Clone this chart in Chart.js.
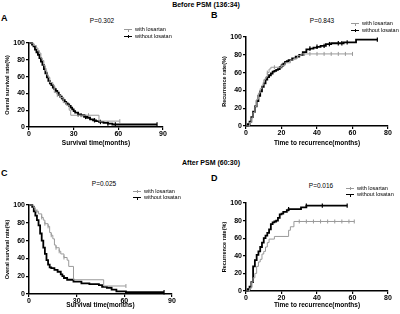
<!DOCTYPE html>
<html>
<head>
<meta charset="utf-8">
<script src="https://cdn.jsdelivr.net/npm/chart.js@4"></script>
<style>
body{margin:0;background:#fff;width:400px;height:314px;position:relative;overflow:hidden;font-family:"Liberation Sans",Arial,sans-serif;color:#000;}
canvas{position:absolute;}
.t{position:absolute;white-space:nowrap;transform:translate(-50%,-50%);}
.h{font-weight:bold;font-size:7px;}
.l{font-weight:bold;font-size:9px;transform:translate(0,-50%);}
.p{font-size:6.5px;}
.lg{position:absolute;font-size:5.5px;line-height:6.5px;}
.row{position:relative;height:6.8px;white-space:nowrap;}
.mk{position:absolute;left:0;top:3px;width:8px;}
.mk i{position:absolute;left:3.5px;top:-1.5px;height:3px;width:0;}
.tx{position:absolute;left:11px;top:0;}
</style>
</head>
<body>
<div class="t h" style="left:206px;top:4px">Before PSM (136:34)</div>
<div class="t h" style="left:211px;top:162px">After PSM (60:30)</div>
<div class="t l" style="left:1px;top:18px">A</div>
<div class="t l" style="left:211px;top:15px">B</div>
<div class="t l" style="left:1px;top:173px">C</div>
<div class="t l" style="left:211px;top:178px">D</div>
<div class="t p" style="left:102px;top:20px">P=0.302</div>
<div class="t p" style="left:322px;top:20px">P=0.843</div>
<div class="t p" style="left:104px;top:183px">P=0.025</div>
<div class="t p" style="left:321px;top:185px">P=0.016</div>

<canvas id="cA" width="178" height="114" style="left:0;top:36px"></canvas>
<canvas id="cB" width="183" height="120" style="left:217px;top:30px"></canvas>
<canvas id="cC" width="184" height="114" style="left:0;top:198px"></canvas>
<canvas id="cD" width="183" height="116" style="left:217px;top:196px"></canvas>

<script>
// series labels
const seriesNames = ["with losartan", "without losatan"];

// A: overall survival, before PSM
const aWithT = [0, 3, 5, 6, 7, 8, 9, 10, 11, 12, 13, 14, 16, 17, 19, 21, 23, 25, 27, 28, 47, 61];
const aWithS = [100, 97, 94, 91, 88, 82, 79, 73, 67, 62, 59, 53, 50, 41, 38, 35, 29, 26, 20, 14, 7, 7];
const aWithC = [14, 19, 22, 35, 40, 61];
const aWithoutT = [0, 2, 3, 4, 5, 6, 7, 8, 9, 10, 11, 12, 13, 14, 15, 16, 17, 18, 19, 20, 21, 22, 23, 24, 25, 26, 27, 28, 29, 30, 31, 33, 35, 37, 39, 41, 43, 45, 47, 50, 53, 56, 86];
const aWithoutS = [100, 98, 96, 92, 89, 86, 82, 78, 74, 69, 64, 59, 55, 52, 50, 47, 45, 43, 41, 38, 36, 34, 32, 30, 28, 27, 25, 23, 21, 19, 17, 15, 14, 12, 11, 9, 8, 7, 6, 5, 4, 3, 3];
const aWithoutC = [33, 38, 44, 48, 53, 58, 86];

// B: recurrence, before PSM
const bWithT = [0, 2, 3, 4, 5, 6, 7, 8, 9, 10, 11, 12, 13, 14, 20, 22, 25, 27, 29, 31, 60];
const bWithS = [0, 4, 9, 15, 22, 30, 37, 42, 46, 52, 55, 60, 64, 66, 68, 71, 74, 76, 79, 81, 81];
const bWithC = [12, 16, 20, 33, 36, 40, 44, 48, 52, 56, 60];
const bWithoutT = [0, 1, 2, 3, 4, 5, 6, 7, 8, 9, 10, 11, 12, 13, 14, 15, 16, 17, 18, 19, 20, 21, 22, 23, 24, 26, 28, 30, 32, 34, 36, 38, 40, 42, 45, 48, 55, 62, 74];
const bWithoutS = [0, 2, 5, 10, 16, 22, 28, 34, 39, 44, 48, 52, 55, 57, 59, 61, 62, 63, 64, 66, 68, 70, 72, 73, 74, 76, 78, 80, 83, 86, 87, 88, 89, 90, 92, 93, 94, 97, 97];
const bWithoutC = [36, 40, 44, 47, 52, 54, 57, 74];

// C: overall survival, after PSM
const cWithT = [0, 3, 4, 6, 8, 9, 10, 12, 13, 14, 15, 16, 17, 19, 20, 22, 24, 25, 28, 47, 61];
const cWithS = [100, 97, 93, 90, 86, 83, 79, 76, 69, 66, 62, 55, 52, 48, 45, 41, 38, 31, 16, 9, 9];
const cWithC = [5, 8, 10, 12, 14, 17, 19, 22, 61];
const cWithoutT = [0, 2, 3, 4, 5, 6, 7, 8, 9, 10, 11, 12, 13, 14, 16, 18, 20, 21, 22, 24, 28, 33, 38, 44, 46, 49, 52, 55, 61, 85];
const cWithoutS = [100, 98, 93, 88, 83, 77, 68, 60, 52, 45, 38, 33, 30, 29, 27, 25, 22, 20, 18, 16, 14, 12, 11, 10, 8, 7, 5, 3, 2, 2];
const cWithoutC = [85];

// D: recurrence, after PSM
const dWithT = [0, 2, 3, 4, 5, 6, 7, 8, 9, 10, 11, 12, 13, 16, 24, 25, 27, 61];
const dWithS = [0, 3, 10, 15, 20, 28, 33, 36, 42, 45, 50, 55, 59, 62, 69, 73, 79, 79];
const dWithC = [30, 34, 38, 42, 46, 50, 54, 58, 61];
const dWithoutT = [0, 1, 2, 3, 4, 5, 6, 7, 8, 9, 10, 11, 12, 13, 14, 15, 16, 17, 18, 19, 20, 21, 23, 24, 31, 34, 57];
const dWithoutS = [0, 2, 5, 10, 28, 35, 41, 45, 50, 55, 60, 63, 66, 70, 76, 78, 79, 80, 83, 87, 88, 90, 92, 93, 95, 97, 97];
const dWithoutC = [24, 34, 43, 57];

const grayCol = "#9a9a9a";
const fontFam = "'Liberation Sans', Arial, sans-serif";

function pts(t, s){
    return t.map(function(x, i){ return {x: x, y: s[i]}; });
}
function valueAt(t, s, x){
    let v = s[0];
    for(let i = 0; i < t.length; i++){ if(t[i] <= x) v = s[i]; }
    return v;
}
function ticksAt(t, s, c){
    return c.map(function(x){ return {x: x, y: valueAt(t, s, x)}; });
}

function panel(id, p){
    new Chart(document.getElementById(id), {
        type: "line",
        data: {
            datasets: [
                {label: seriesNames[0], data: pts(p.wt, p.ws), stepped: true, borderColor: grayCol, borderWidth: 1, pointRadius: 0, fill: false},
                {label: seriesNames[1], data: pts(p.ot, p.os), stepped: true, borderColor: "#000", borderWidth: 1.8, pointRadius: 0, fill: false},
                {data: ticksAt(p.wt, p.ws, p.wc), showLine: false, pointStyle: "line", rotation: 90, pointRadius: 2, borderColor: grayCol, borderWidth: 1},
                {data: ticksAt(p.ot, p.os, p.oc), showLine: false, pointStyle: "line", rotation: 90, pointRadius: 2.2, borderColor: "#000", borderWidth: 1.2}
            ]
        },
        options: {
            responsive: false,
            animation: false,
            clip: false,
            layout: {padding: {left: 0, top: 7, right: p.right, bottom: 0}},
            plugins: {legend: {display: false}, tooltip: {enabled: false}},
            scales: {
                x: {
                    type: "linear", min: 0, max: p.xMax,
                    ticks: {stepSize: p.xStep, color: "#000", padding: 0, maxRotation: 0, font: {family: fontFam, size: 7, weight: "bold"}},
                    grid: {drawOnChartArea: false, tickLength: 3, color: "#000", lineWidth: 1.2},
                    border: {color: "#000", width: 1.5},
                    title: {display: true, text: p.xTitle, color: "#000", padding: {top: 0, bottom: 3}, font: {family: fontFam, size: 6.5, weight: "bold"}},
                    afterFit: function(s){ s.height = p.xH; }
                },
                y: {
                    min: 0, max: 100,
                    ticks: {stepSize: 20, color: "#000", padding: 1, font: {family: fontFam, size: 7, weight: "bold"}},
                    grid: {drawOnChartArea: false, tickLength: 3, color: "#000", lineWidth: 1.2},
                    border: {color: "#000", width: 1.5},
                    title: {display: true, text: p.yTitle, color: "#000", padding: {top: 4, bottom: 0}, font: {family: fontFam, size: 5.5, weight: "bold"}},
                    afterFit: function(s){ s.width = 29; }
                }
            }
        }
    });
}

panel("cA", {wt: aWithT, ws: aWithS, wc: aWithC, ot: aWithoutT, os: aWithoutS, oc: aWithoutC,
    xMax: 90, xStep: 30, xTitle: "Survival time(months)", yTitle: "Overal survival rate(%)", right: 15, xH: 23});
panel("cB", {wt: bWithT, ws: bWithS, wc: bWithC, ot: bWithoutT, os: bWithoutS, oc: bWithoutC,
    xMax: 80, xStep: 20, xTitle: "Time to recurrence(months)", yTitle: "Recurrence rate(%)", right: 12, xH: 24});
panel("cC", {wt: cWithT, ws: cWithS, wc: cWithC, ot: cWithoutT, os: cWithoutS, oc: cWithoutC,
    xMax: 90, xStep: 30, xTitle: "Survival time(months)", yTitle: "Overal survival rate(%)", right: 12, xH: 18});
panel("cD", {wt: dWithT, ws: dWithS, wc: dWithC, ot: dWithoutT, os: dWithoutS, oc: dWithoutC,
    xMax: 80, xStep: 20, xTitle: "Time to recurrence(months)", yTitle: "Recurrence rate(%)", right: 12, xH: 21});

// legends
function legend(x, y){
    const box = document.createElement("div");
    box.className = "lg";
    box.style.left = x + "px";
    box.style.top = y + "px";
    seriesNames.forEach(function(name, i){
        const col = i === 0 ? grayCol : "#000";
        const w = i === 0 ? 1 : 1.8;
        box.innerHTML += '<div class="row"><span class="mk" style="border-top:' + w + 'px solid ' + col + '"><i style="border-left:1px solid ' + col + '"></i></span><span class="tx">' + name + '</span></div>';
    });
    document.body.appendChild(box);
}
legend(124, 26);
legend(351, 20);
legend(133, 187.5);
legend(346, 184.5);
</script>
</body>
</html>
